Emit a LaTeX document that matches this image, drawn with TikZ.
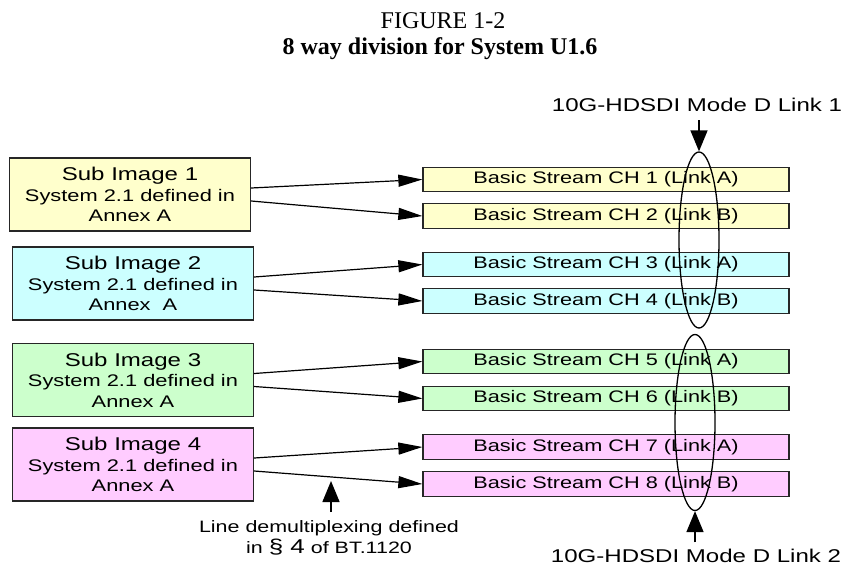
\documentclass[tikz,border=0pt]{standalone}
\usepackage{fontspec}
\setmainfont{Liberation Serif}
\newfontfamily\diafont{Liberation Sans}[FakeStretch=1.3]
\usetikzlibrary{shapes.geometric,arrows.meta}
\definecolor{subyellow}{HTML}{FFFFCC}
\definecolor{subcyan}{HTML}{CCFFFF}
\definecolor{subgreen}{HTML}{CCFFCC}
\definecolor{subpink}{HTML}{FFCCFF}

\begin{document}
\begin{tikzpicture}[x=1pt,y=-1pt,
  subimg/.style={draw=black!85,line width=1.3pt,minimum width=241pt,minimum height=73pt,
    inner sep=0pt,align=center,font=\diafont\fontsize{16.8}{20.5}\selectfont},
  stream/.style={draw=black!85,line width=1.3pt,minimum width=366pt,minimum height=24.5pt,
    inner sep=0pt,font=\diafont\fontsize{16.7}{18}\selectfont},
  linkring/.style={draw,ellipse,line width=1.3pt,minimum width=40pt,minimum height=176pt,inner sep=0pt},
  feed/.style={line width=1.2pt,-{Triangle[length=24pt,width=12pt]}},
  marker/.style={line width=1.5pt,-{Triangle[length=21pt,width=17pt]}},
  note/.style={font=\diafont\fontsize{18.5}{20}\selectfont,inner sep=2pt}]
\useasboundingbox (0,0) rectangle (845,565);

% caption
\node[anchor=base,font=\fontsize{24}{26}\selectfont] (fig) at (443,28) {FIGURE 1-2};
\node[anchor=base,font=\bfseries\fontsize{24}{26}\selectfont] (title) at (440,54) {8 way division for System U1.6};

% sub images
\node[subimg,fill=subyellow] (sub1) at (130,194.5) {{\fontsize{18.5}{20.5}\selectfont Sub Image 1}\\System 2.1 defined in\\Annex A};
\node[subimg,fill=subcyan] (sub2) at (133,283.5) {{\fontsize{18.5}{20.5}\selectfont Sub Image 2}\\System 2.1 defined in\\Annex\ \ A};
\node[subimg,fill=subgreen] (sub3) at (133,380) {{\fontsize{18.5}{20.5}\selectfont Sub Image 3}\\System 2.1 defined in\\Annex A};
\node[subimg,fill=subpink] (sub4) at (133,464.5) {{\fontsize{18.5}{20.5}\selectfont Sub Image 4}\\System 2.1 defined in\\Annex A};

% basic streams
\node[stream,fill=subyellow] (bs1) at (606,179.5) {Basic Stream CH 1 (Link A)};
\node[stream,fill=subyellow] (bs2) at (606,216) {Basic Stream CH 2 (Link B)};
\node[stream,fill=subcyan] (bs3) at (606,264.5) {Basic Stream CH 3 (Link A)};
\node[stream,fill=subcyan] (bs4) at (606,301) {Basic Stream CH 4 (Link B)};
\node[stream,fill=subgreen] (bs5) at (606,361.5) {Basic Stream CH 5 (Link A)};
\node[stream,fill=subgreen] (bs6) at (606,398.5) {Basic Stream CH 6 (Link B)};
\node[stream,fill=subpink] (bs7) at (606,447) {Basic Stream CH 7 (Link A)};
\node[stream,fill=subpink] (bs8) at (606,484) {Basic Stream CH 8 (Link B)};

\draw[feed] ([yshift=6.5pt]sub1.east) -- (bs1.west);
\draw[feed] ([yshift=-6.5pt]sub1.east) -- (bs2.west);
\draw[feed] ([yshift=6.5pt]sub2.east) -- (bs3.west);
\draw[feed] ([yshift=-6.5pt]sub2.east) -- (bs4.west);
\draw[feed] ([yshift=6.5pt]sub3.east) -- (bs5.west);
\draw[feed] ([yshift=-6.5pt]sub3.east) -- (bs6.west);
\draw[feed] ([yshift=6.5pt]sub4.east) -- (bs7.west);
\draw[feed] ([yshift=-6.5pt]sub4.east) -- (bs8.west);

% link rings
\node[linkring] (lk1) at (699,240) {};
\node[linkring] (lk2) at (695,422.5) {};
\node[note,anchor=base] (lbl1) at (697,111) {10G-HDSDI Mode D Link 1};
\node[note,anchor=base] (lbl2) at (696,562) {10G-HDSDI Mode D Link 2};
\draw[marker] ([yshift=-7pt]lbl1.south -| lk1.north) -- (lk1.north);
\draw[marker] ([yshift=4pt]lbl2.north -| lk2.south) -- (lk2.south);

% line demultiplexing
\coordinate (dmx) at (331,481);
\node[anchor=north,align=center,inner sep=2pt,font=\diafont\fontsize{16.5}{21}\selectfont] (dmxtxt) at (329,518)
  {Line demultiplexing defined\\in {\fontsize{20}{21}\selectfont §\ 4} of BT.1120};
\draw[marker] ([yshift=6pt]dmxtxt.north -| dmx) -- (dmx);
\end{tikzpicture}
\end{document}
